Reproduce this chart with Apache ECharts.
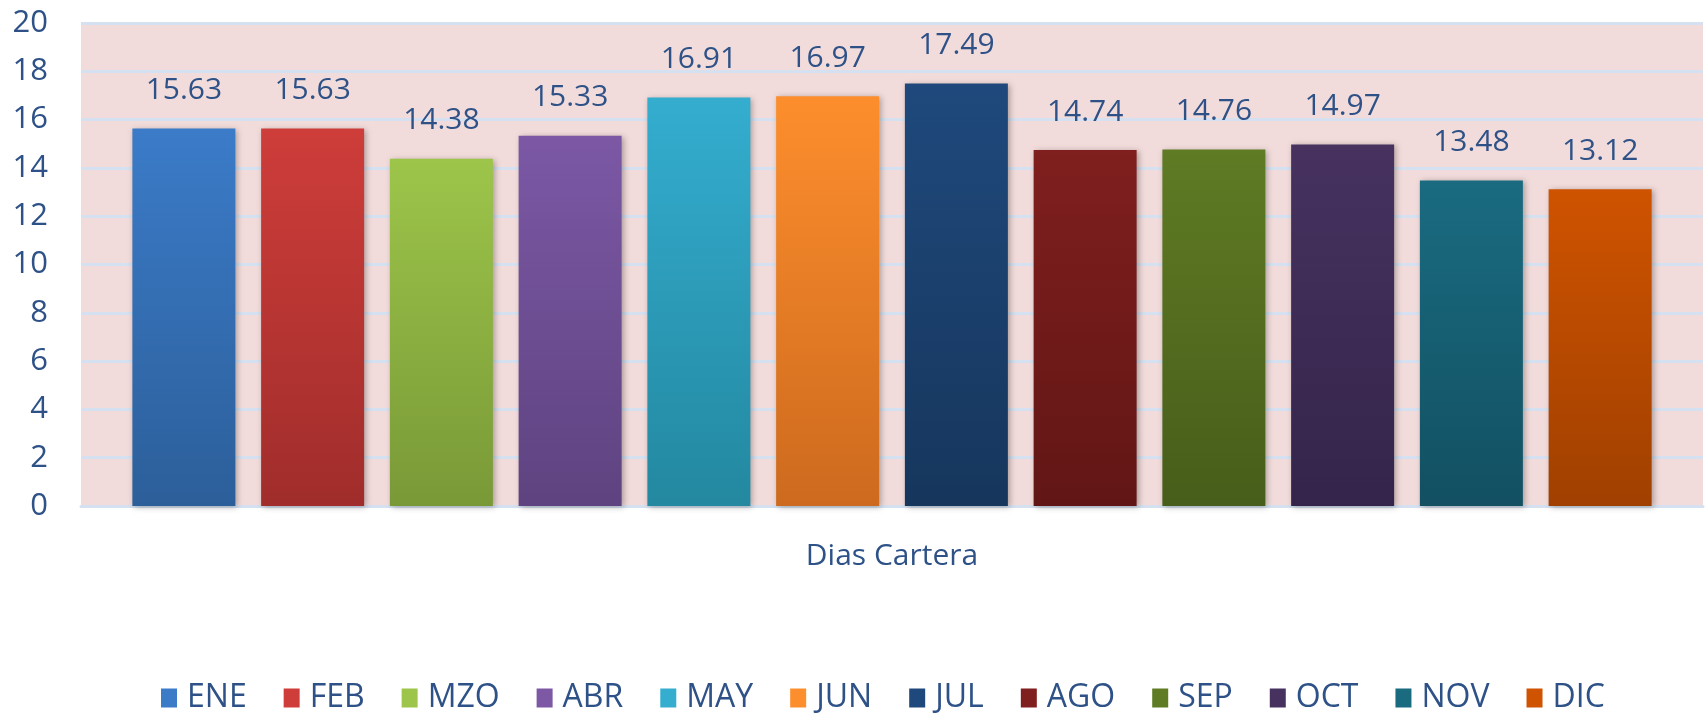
<!DOCTYPE html>
<html>
<head>
<meta charset="utf-8">
<script src="https://cdn.jsdelivr.net/npm/echarts@6/dist/echarts.min.js"></script>
<style>html,body{margin:0;padding:0;background:#fff;}#c{width:1705px;height:721px;}</style>
</head>
<body>
<div id="c"></div>
<script>
const categories = ['Dias Cartera'];
const months = ['ENE','FEB','MZO','ABR','MAY','JUN','JUL','AGO','SEP','OCT','NOV','DIC'];
const values = [15.63, 15.63, 14.38, 15.33, 16.91, 16.97, 17.49, 14.74, 14.76, 14.97, 13.48, 13.12];
const topColors = ['#3B7BC8','#CE3D3A','#9DC54A','#7C58A5','#34ADCF','#FD8E2D','#1F497C','#7F1F1E','#5F7B24','#47325F','#1A6B80','#CF5300'];
const bottomColors = ['#2C5F9A','#A02D2B','#799937','#5E4380','#2388A0','#CD6A1E','#16365C','#611615','#475D1A','#34244B','#125062','#A04000'];
const yTicks = {min: 0, max: 20, interval: 2};

const textColor = '#2E5287';
const font = 'Open Sans';

const chart = echarts.init(document.getElementById('c'));
const series = months.map((m, i) => ({
  name: m,
  type: 'bar',
  data: [values[i]],
  barWidth: 103,
  barGap: '25%',
  itemStyle: {
    color: new echarts.graphic.LinearGradient(0, 0, 0, 1, [
      {offset: 0, color: topColors[i]},
      {offset: 1, color: bottomColors[i]}
    ]),
    shadowColor: 'rgba(0,0,0,0.3)',
    shadowBlur: 6,
    shadowOffsetX: 2,
    shadowOffsetY: 1
  },
  label: {
    show: true,
    position: 'top',
    distance: 23,
    color: textColor,
    fontFamily: font,
    fontSize: 30,
    formatter: p => p.value.toFixed(2)
  }
}));

chart.setOption({
  animation: false,
  backgroundColor: '#ffffff',
  color: topColors,
  grid: {
    left: 81, right: 2, top: 23, bottom: 215,
    show: true, backgroundColor: '#F2DCDB', borderWidth: 0
  },
  legend: {
    bottom: 2,
    left: 156,
    itemWidth: 16,
    itemHeight: 19,
    itemGap: 37,
    icon: 'rect',
    textStyle: {color: textColor, fontFamily: font, fontSize: 32, padding: [0, 0, 0, 5]},
    data: months.map((m, i) => ({name: m, itemStyle: {color: topColors[i]}}))
  },
  xAxis: {
    type: 'category',
    data: categories,
    axisLine: {show: true, lineStyle: {color: '#D5E1F0', width: 3}},
    axisTick: {show: false},
    axisLabel: {color: textColor, fontFamily: font, fontSize: 30, margin: 35}
  },
  yAxis: {
    type: 'value',
    min: yTicks.min, max: yTicks.max, interval: yTicks.interval,
    axisLine: {show: false},
    axisTick: {show: false},
    axisLabel: {color: textColor, fontFamily: font, fontSize: 31, margin: 33},
    splitLine: {show: true, lineStyle: {color: '#D5E1F0', width: 3}}
  },
  series: series
});
</script>
</body>
</html>
